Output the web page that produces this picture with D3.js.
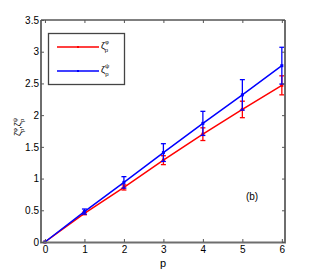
<!DOCTYPE html>
<html>
<head>
<meta charset="utf-8">
<script src="https://d3js.org/d3.v7.min.js"></script>
<style>
  body { margin: 0; background: #fff; }
  text { font-family: "Liberation Sans", Arial, sans-serif; }
</style>
</head>
<body>
<div id="vis"></div>
<script>
  // data
  const pVals = [0, 1, 2, 3, 4, 5, 6]
  const zetaPhi = [0, 0.45, 0.86, 1.29, 1.70, 2.09, 2.47]
  const zetaPhiErr = [0, 0.02, 0.04, 0.07, 0.10, 0.13, 0.15]
  const zetaPsi = [0, 0.48, 0.94, 1.41, 1.87, 2.32, 2.78]
  const zetaPsiErr = [0, 0.04, 0.09, 0.14, 0.19, 0.24, 0.29]
  const xTicks = [0, 1, 2, 3, 4, 5, 6]
  const yTicks = [0, 0.5, 1, 1.5, 2, 2.5, 3, 3.5]

  var svg = d3.select('#vis')
    .append('svg')
    .attr('width', 316)
    .attr('height', 273)

  var x = d3.scaleLinear().domain([-0.1, 6.08]).range([41, 285])
  var y = d3.scaleLinear().domain([0, 3.5]).range([242, 20])

  var series = [
    { vals: zetaPhi, err: zetaPhiErr, color: '#ff0000' },
    { vals: zetaPsi, err: zetaPsiErr, color: '#0000ff' }
  ]

  var line = d3.line()
    .x(function(d) { return x(d.p) })
    .y(function(d) { return y(d.v) })

  series.forEach(function(s) {
    var pts = pVals.map(function(p, i) { return { p: p, v: s.vals[i], e: s.err[i] } })
    svg.append('path')
      .datum(pts)
      .attr('d', line)
      .attr('fill', 'none')
      .attr('stroke', s.color)
      .attr('stroke-width', 1.5)

    var g = svg.append('g')
    pts.forEach(function(d) {
      if (d.e <= 0) return
      var cx = x(d.p)
      g.append('line')
        .attr('x1', cx).attr('x2', cx)
        .attr('y1', y(d.v - d.e)).attr('y2', y(d.v + d.e))
        .attr('stroke', s.color).attr('stroke-width', 1.3)
      ;[d.v - d.e, d.v + d.e].forEach(function(v) {
        g.append('line')
          .attr('x1', cx - 2.5).attr('x2', cx + 2.5)
          .attr('y1', y(v)).attr('y2', y(v))
          .attr('stroke', s.color).attr('stroke-width', 1.3)
      })
    })
    g.selectAll('rect')
      .data(pts)
      .enter()
      .append('rect')
      .attr('x', function(d) { return x(d.p) - 1.5 })
      .attr('y', function(d) { return y(d.v) - 1.5 })
      .attr('width', 3)
      .attr('height', 3)
      .attr('fill', s.color)
  })

  // axes box: gray left/bottom/right, black top
  var axisGray = '#6e6e6e'
  svg.append('line').attr('x1', 41).attr('x2', 285).attr('y1', 20).attr('y2', 20)
    .attr('stroke', '#000').attr('stroke-width', 1)
  svg.append('line').attr('x1', 41).attr('x2', 41).attr('y1', 20).attr('y2', 243)
    .attr('stroke', axisGray).attr('stroke-width', 2)
  svg.append('line').attr('x1', 40).attr('x2', 286).attr('y1', 242.5).attr('y2', 242.5)
    .attr('stroke', axisGray).attr('stroke-width', 2)
  svg.append('line').attr('x1', 285).attr('x2', 285).attr('y1', 20).attr('y2', 243)
    .attr('stroke', axisGray).attr('stroke-width', 2)

  // inward ticks
  var xAxisB = d3.axisBottom(x).tickValues(xTicks).tickSize(-3).tickPadding(4).tickFormat(d3.format('d'))
  svg.append('g').attr('transform', 'translate(0,242)').call(xAxisB)
    .call(function(g) { g.select('.domain').remove() })
  var xAxisT = d3.axisTop(x).tickValues(xTicks).tickSize(-3).tickFormat('')
  svg.append('g').attr('transform', 'translate(0,20)').call(xAxisT)
    .call(function(g) { g.select('.domain').remove() })
  var yAxisL = d3.axisLeft(y).tickValues(yTicks).tickSize(-3).tickPadding(2).tickFormat(d3.format('~g'))
  svg.append('g').attr('transform', 'translate(41,0)').call(yAxisL)
    .call(function(g) { g.select('.domain').remove() })
  var yAxisR = d3.axisRight(y).tickValues(yTicks).tickSize(-3).tickFormat('')
  svg.append('g').attr('transform', 'translate(285,0)').call(yAxisR)
    .call(function(g) { g.select('.domain').remove() })

  svg.selectAll('.tick line').attr('stroke', '#555')
  svg.selectAll('.tick text')
    .attr('font-family', '"Liberation Sans", Arial, sans-serif')
    .attr('font-size', 10)
    .attr('fill', '#000')

  // labels
  svg.append('text')
    .attr('x', 163).attr('y', 267)
    .attr('text-anchor', 'middle')
    .attr('font-size', 11)
    .text('p')

  var yl = svg.append('text')
    .attr('transform', 'translate(21,127) rotate(-90)')
    .attr('text-anchor', 'middle')
    .attr('font-size', 9)
  yl.append('tspan').text('ζ')
  yl.append('tspan').attr('font-size', 6).attr('dy', -4).text('φ')
  yl.append('tspan').attr('font-size', 6).attr('dx', -4).attr('dy', 7).text('p')
  yl.append('tspan').attr('dy', -3).text(',ζ')
  yl.append('tspan').attr('font-size', 6).attr('dy', -4).text('ψ')
  yl.append('tspan').attr('font-size', 6).attr('dx', -4).attr('dy', 7).text('p')

  svg.append('text')
    .attr('x', 252).attr('y', 200)
    .attr('text-anchor', 'middle')
    .attr('font-size', 10)
    .text('(b)')

  // legend
  svg.append('rect')
    .attr('x', 48.5).attr('y', 33.5).attr('width', 76).attr('height', 51)
    .attr('fill', '#fff').attr('stroke', '#444').attr('stroke-width', 1.3)

  var legendRows = [
    { color: '#ff0000', sup: 'φ', yy: 47 },
    { color: '#0000ff', sup: 'ψ', yy: 71 }
  ]
  legendRows.forEach(function(r) {
    svg.append('line')
      .attr('x1', 57).attr('x2', 99).attr('y1', r.yy).attr('y2', r.yy)
      .attr('stroke', r.color).attr('stroke-width', 1.5)
    svg.append('rect')
      .attr('x', 77).attr('y', r.yy - 1).attr('width', 2).attr('height', 2)
      .attr('fill', r.color)
    var t = svg.append('text').attr('x', 101).attr('y', r.yy + 2).attr('font-size', 9)
    t.append('tspan').text('ζ')
    t.append('tspan').attr('font-size', 6).attr('dy', -5).text(r.sup)
    t.append('tspan').attr('font-size', 6).attr('dx', -4).attr('dy', 8).text('p')
  })
</script>
</body>
</html>
